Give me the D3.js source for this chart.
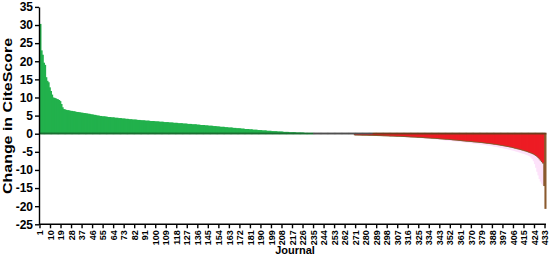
<!DOCTYPE html>
<html>
<head>
<meta charset="utf-8">
<script src="https://cdn.jsdelivr.net/npm/d3@7"></script>
<style>
	body { margin: 0; background: #fff; }
	svg text { font-family: "Liberation Sans", Arial, sans-serif; font-weight: bold; fill: #000; }
	.axis path, .axis line { stroke: #000; stroke-width: 1.4px; }
</style>
</head>
<body>
<svg id="chart" width="550" height="260"></svg>
<script>
	//DATA - change in CiteScore per journal, sorted high to low (journal 1..433)
	var changeValues = [
		30.3, 23.0, 21.8, 19.6, 19.0, 15.6, 14.6, 14.2, 12.8, 11.8, 10.8, 10.0, 9.9, 9.8, 9.6, 9.5, 9.3, 9.0, 8.2, 7.3, 6.8,
		6.7, 6.6, 6.5, 6.5, 6.4, 6.3, 6.3, 6.2, 6.2,
		6.1, 6.0, 6.0, 5.9, 5.9, 5.8, 5.8, 5.7, 5.7, 5.6,
		5.6, 5.5, 5.5, 5.4, 5.3, 5.3, 5.2, 5.2, 5.1, 5.0,
		5.0, 4.9, 4.9, 4.8, 4.8, 4.8, 4.7, 4.7, 4.6, 4.6,
		4.6, 4.5, 4.5, 4.5, 4.4, 4.4, 4.4, 4.3, 4.3, 4.3, 4.2, 4.2, 4.2,
		4.1, 4.1, 4.1, 4.0, 4.0, 4.0, 3.9, 3.9, 3.9, 3.9, 3.8, 3.8, 3.8,
		3.7, 3.7, 3.7, 3.7, 3.6, 3.6, 3.6, 3.6, 3.5, 3.5, 3.5, 3.5, 3.4, 3.4,
		3.4, 3.4, 3.3, 3.3, 3.3, 3.3, 3.2, 3.2, 3.2, 3.2, 3.1, 3.1, 3.1, 3.1, 3.0, 3.0, 3.0, 3.0,
		2.9, 2.9, 2.9, 2.9, 2.8, 2.8, 2.8, 2.8, 2.7, 2.7, 2.7, 2.7, 2.6, 2.6, 2.6, 2.6, 2.5, 2.5,
		2.5, 2.4, 2.4, 2.4, 2.4, 2.3, 2.3, 2.3, 2.2, 2.2, 2.2, 2.2, 2.1, 2.1, 2.1, 2.0, 2.0, 2.0,
		1.9, 1.9, 1.9, 1.9, 1.8, 1.8, 1.8, 1.7, 1.7, 1.7, 1.7, 1.6, 1.6, 1.6, 1.5, 1.5, 1.5, 1.5,
		1.4, 1.4, 1.4, 1.3, 1.3, 1.3, 1.3, 1.2, 1.2, 1.2, 1.1, 1.1, 1.1, 1.1, 1.0, 1.0, 1.0, 1.0,
		0.9, 0.9, 0.9, 0.9, 0.8, 0.8, 0.8, 0.8, 0.7, 0.7, 0.7, 0.7, 0.7, 0.6, 0.6, 0.6, 0.6, 0.6,
		0.5, 0.5, 0.5, 0.5, 0.5, 0.4, 0.4, 0.4, 0.4, 0.4, 0.4, 0.3, 0.3, 0.3, 0.3, 0.3, 0.3, 0.3,
		0.2, 0.2, 0.2, 0.2, 0.2, 0.2, 0.2, 0.2, 0.1, 0.1, 0.1, 0.1, 0.1, 0.1, 0.1, 0.1, 0.1, 0.1,
		0.05, 0.05, 0.05, 0.05, 0.05, 0.05, 0.04, 0.04, 0.03, 0.03, 0.03, 0.02, 0.02, 0.02, 0.01, 0.01, 0.01, 0.0,
		0, 0, 0, 0, 0, 0, 0, -0.01, -0.02, -0.03,
		-0.05, -0.05, -0.06, -0.07, -0.08, -0.09, -0.1, -0.1, -0.11, -0.12, -0.13, -0.14, -0.15, -0.16, -0.17, -0.18, -0.19, -0.2,
		-0.2, -0.21, -0.22, -0.23, -0.24, -0.25, -0.26, -0.27, -0.28, -0.3, -0.31, -0.32, -0.33, -0.35, -0.36, -0.37, -0.38, -0.4,
		-0.41, -0.43, -0.44, -0.46, -0.47, -0.49, -0.5, -0.52, -0.54, -0.55, -0.57, -0.59, -0.6, -0.62, -0.64, -0.66, -0.68, -0.7,
		-0.72, -0.74, -0.76, -0.78, -0.8, -0.82, -0.84, -0.86, -0.88, -0.9, -0.93, -0.95, -0.97, -1.0, -1.02, -1.05, -1.07, -1.1,
		-1.12, -1.15, -1.17, -1.2, -1.22, -1.25, -1.28, -1.3, -1.33, -1.36, -1.39, -1.42, -1.45, -1.48, -1.51, -1.55, -1.58, -1.62,
		-1.65, -1.68, -1.71, -1.74, -1.77, -1.8, -1.83, -1.86, -1.89, -1.92, -1.95, -1.98, -2.01, -2.04, -2.07, -2.1, -2.14, -2.18,
		-2.22, -2.26, -2.3, -2.34, -2.38, -2.42, -2.46, -2.5, -2.55, -2.6, -2.65, -2.7, -2.75, -2.8, -2.86, -2.92, -2.98, -3.04,
		-3.1, -3.16, -3.22, -3.28, -3.35, -3.42, -3.5, -3.58, -3.66, -3.74, -3.82, -3.9, -3.98, -4.07, -4.16, -4.25, -4.35, -4.45,
		-4.55, -4.66, -4.78, -4.9, -5.03, -5.17, -5.32, -5.5, -5.7, -5.95, -6.25, -6.6, -7.0, -7.4, -7.8, -14.0, -20.3
	];
	//faint pink series behind the red bars, starts at journal 300
	var pinkStart = 300;
	var pinkValues = [
		-0.7, -0.72, -0.74, -0.76, -0.78, -0.8, -0.82, -0.84, -0.86, -0.88, -0.9, -0.92, -0.94, -0.96, -0.98, -1.0, -1.02, -1.04,
		-1.06, -1.08, -1.1, -1.12, -1.14, -1.16, -1.18, -1.2, -1.22, -1.25, -1.28, -1.3, -1.33, -1.36, -1.38, -1.4, -1.43, -1.46,
		-1.48, -1.5, -1.53, -1.56, -1.6, -1.63, -1.66, -1.7, -1.73, -1.76, -1.8, -1.83, -1.86, -1.9, -1.93, -1.96, -2.0, -2.03,
		-2.06, -2.1, -2.13, -2.16, -2.2, -2.23, -2.26, -2.3, -2.33, -2.36, -2.4, -2.44, -2.48, -2.52, -2.56, -2.6, -2.64, -2.68,
		-2.72, -2.76, -2.8, -2.84, -2.88, -2.92, -2.96, -3.0, -3.05, -3.1, -3.15, -3.2, -3.25, -3.3, -3.35, -3.4, -3.46, -3.52,
		-3.58, -3.64, -3.7, -3.76, -3.82, -3.88, -3.95, -4.02, -4.09, -4.16, -4.23, -4.3, -4.38, -4.46, -4.54, -4.62, -4.7, -4.8,
		-4.9, -5.0, -5.1, -5.2, -5.3, -5.4, -5.5, -5.6, -5.72, -5.84, -5.96, -6.1, -6.3, -6.6, -7.0, -7.6, -8.4, -9.4,
		-10.5, -11.5, -12.5, -13.2, -13.8, -14.2
	];
	var yTicks = [-25, -20, -15, -10, -5, 0, 5, 10, 15, 20, 25, 30, 35];
	var journals = changeValues.map(function (d, i) { return i + 1; });
	var xTicks = journals.filter(function (j) { return (j - 1) % 9 === 0; });

	var svg = d3.select("#chart");
	var x = d3.scaleBand().domain(journals).range([39.4, 545.6]).padding(0);
	var y = d3.scaleLinear().domain([-25, 35]).range([224.3, 6.9]);
	var bw = x.bandwidth();

	var pinkData = pinkValues.map(function (v, i) { return { j: pinkStart + i, v: v }; });
	var barData = changeValues.map(function (v, i) { return { j: i + 1, v: v }; });

	//pink bars (behind)
	svg.append("g").selectAll("rect")
		.data(pinkData).enter().append("rect")
		.attr("x", function (d) { return x(d.j); })
		.attr("y", y(0))
		.attr("width", bw + 0.9)
		.attr("height", function (d) { return y(d.v) - y(0); })
		.style("fill", "#fde2fa")

	//green positive bars
	svg.append("g").selectAll("rect")
		.data(barData.filter(function (d) { return d.v > 0; })).enter().append("rect")
		.attr("x", function (d) { return x(d.j); })
		.attr("y", function (d) { return y(d.v); })
		.attr("width", bw + 0.9)
		.attr("height", function (d) { return y(0) - y(d.v); })
		.style("fill", "#22b14c")

	//negative bars: brown edge below, red body on top
	var neg = barData.filter(function (d) { return d.v < 0; });
	svg.append("g").selectAll("rect")
		.data(neg).enter().append("rect")
		.attr("x", function (d) { return x(d.j); })
		.attr("y", y(0))
		.attr("width", bw + 0.9)
		.attr("height", function (d) { return y(d.v) - y(0) + 1.6; })
		.style("fill", "#8a5a2e")
	svg.append("g").selectAll("rect")
		.data(neg.filter(function (d) { return d.j < 432; })).enter().append("rect")
		.attr("x", function (d) { return x(d.j); })
		.attr("y", y(0))
		.attr("width", bw + 0.9)
		.attr("height", function (d) { return y(d.v) - y(0) + 0.6; })
		.style("fill", "#ed1c24")

	//zero line, coloured by bar sign
	svg.append("g").selectAll("rect")
		.data(barData).enter().append("rect")
		.attr("x", function (d) { return x(d.j); })
		.attr("y", y(0) - 1)
		.attr("width", bw + 0.9)
		.attr("height", 1.6)
		.style("fill", function (d) { return d.v > 0.15 ? "#1c6e33" : (d.v < -0.15 ? "#6e3e1e" : "#505050"); })

	//axes
	var yAxis = d3.axisLeft(y).tickValues(yTicks).tickSize(4).tickSizeOuter(0)
		.tickFormat(function (d) { return String(d); });
	svg.append("g").attr("class", "axis").attr("transform", "translate(39,0)").call(yAxis)
		.selectAll("text").style("font-size", "12px").attr("x", -6);

	var xAxis = d3.axisBottom(x).tickValues(xTicks).tickSize(4).tickSizeOuter(0);
	var gx = svg.append("g").attr("class", "axis").attr("transform", "translate(0," + y(-25) + ")").call(xAxis);
	gx.select(".domain").attr("d", "M39,0H546");
	gx.selectAll("text")
		.style("font-size", "9px")
		.attr("transform", "rotate(-90)")
		.attr("x", -6).attr("y", 0).attr("dy", "0.35em")
		.attr("text-anchor", "end")

	//titles
	svg.append("text").text("Change in CiteScore")
		.attr("transform", "translate(12,116) rotate(-90)")
		.attr("text-anchor", "middle")
		.attr("textLength", 156)
		.attr("lengthAdjust", "spacingAndGlyphs")
		.style("font-size", "12.5px")
	svg.append("text").text("Journal")
		.attr("x", 295).attr("y", 254)
		.attr("text-anchor", "middle")
		.style("font-size", "11px")
</script>
</body>
</html>
